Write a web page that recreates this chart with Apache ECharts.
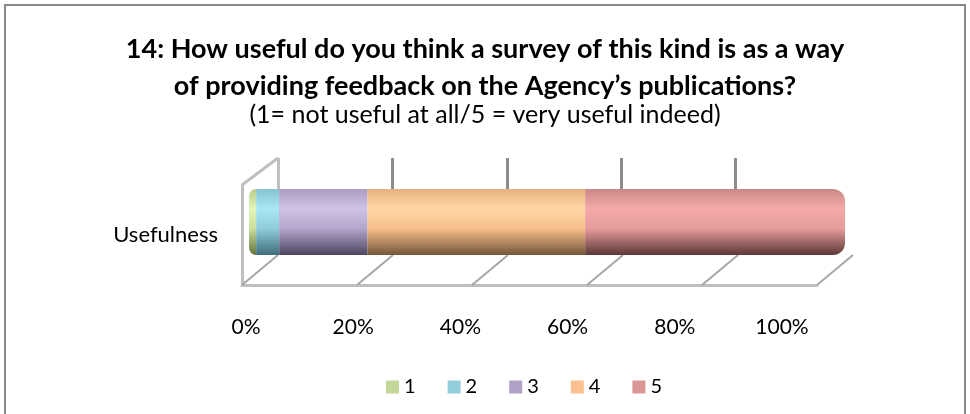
<!DOCTYPE html>
<html>
<head>
<meta charset="utf-8">
<script src="https://cdn.jsdelivr.net/npm/echarts@6/dist/echarts.min.js"></script>
<style>
  html, body { margin: 0; padding: 0; background: #fff; }
  #chart { width: 970px; height: 414px; }
</style>
</head>
<body>
<div id="chart"></div>
<script>
// data (percent of answers)
var categories = ['Usefulness']
var seriesNames = ['1', '2', '3', '4', '5']
var values = [1.2, 3.9, 14.8, 36.5, 43.6]
var tickValues = [0, 20, 40, 60, 80, 100]

var FONT = 'Lato, "Liberation Sans", sans-serif'

// flat legend colours + cylinder shading (top, light, mid, bottom)
var flatColors = ['#c4d79b', '#92cddc', '#b2a1c7', '#fac08f', '#da9694']
var shades = [
  ['#b9cc8a', '#e3f5b8', '#c9df9c', '#63733f'],
  ['#86c2d2', '#a9e8f7', '#8fcbdb', '#3f6e7a'],
  ['#ab9cc0', '#d0c2e5', '#b4a5cb', '#4e4560'],
  ['#e7b07f', '#ffd9a5', '#f7be8a', '#75553a'],
  ['#c98988', '#f5aaa9', '#e59c9b', '#5c3737']
]

function cylinder(s) {
  return new echarts.graphic.LinearGradient(0, 0, 0, 1, [
    { offset: 0, color: s[0] },
    { offset: 0.3, color: s[1] },
    { offset: 0.6, color: s[2] },
    { offset: 1, color: s[3] }
  ])
}

var barSeries = seriesNames.map(function (name, i) {
  var radius = [0, 0, 0, 0]
  if (i === 0) radius = [10, 0, 0, 10]
  if (i === seriesNames.length - 1) radius = [0, 12, 12, 0]
  return {
    name: name,
    type: 'bar',
    stack: 'total',
    xAxisIndex: 1,
    yAxisIndex: 1,
    barWidth: 66,
    data: [values[i]],
    itemStyle: { color: cylinder(shades[i]), borderRadius: radius }
  }
})

// floor diagonals of the 3d frame, placed through the floor axis
var floorSeries = {
  type: 'custom',
  xAxisIndex: 2,
  yAxisIndex: 2,
  silent: true,
  data: tickValues.map(function (v) { return [v, 0] }),
  renderItem: function (params, api) {
    var p = api.coord([api.value(0), 0])
    var children = [{
      type: 'line',
      shape: { x1: p[0], y1: p[1], x2: p[0] + 36, y2: p[1] - 30 },
      style: { stroke: '#a6a6a6', lineWidth: 2 }
    }]
    if (params.dataIndex === 0) {
      var t = api.coord([0, 100])
      children.push({
        type: 'line',
        shape: { x1: t[0], y1: t[1], x2: t[0] + 36, y2: t[1] - 27 },
        style: { stroke: '#bfbfbf', lineWidth: 3 }
      })
    }
    return { type: 'group', children: children }
  }
}

var chart = echarts.init(document.getElementById('chart'))

chart.setOption({
  animation: false,
  textStyle: { fontFamily: FONT },
  title: {
    text: '14: How useful do you think a survey of this kind is as a way\nof providing feedback on the Agency\u2019s publications?',
    subtext: '(1= not useful at all/5 = very useful indeed)',
    left: 'center',
    top: 26,
    itemGap: -2,
    textStyle: { fontFamily: FONT, fontSize: 27, fontWeight: 'bold', color: '#000', lineHeight: 37 },
    subtextStyle: { fontFamily: FONT, fontSize: 25, color: '#000', lineHeight: 24 }
  },
  legend: {
    data: seriesNames.map(function (n, i) {
      return { name: n, itemStyle: { color: flatColors[i] } }
    }),
    left: 381,
    top: 372,
    icon: 'rect',
    itemWidth: 13,
    itemHeight: 13,
    itemGap: 32,
    textStyle: { fontFamily: FONT, fontSize: 20, color: '#000' }
  },
  graphic: [{
    type: 'rect',
    silent: true,
    shape: { x: 5, y: 5, width: 960, height: 420 },
    style: { fill: 'none', stroke: '#898989', lineWidth: 2 }
  }],
  grid: [
    { left: 278, right: 120, top: 158, height: 97 },
    { left: 249, right: 125, top: 189, height: 66 },
    { left: 242, right: 153, top: 185, height: 100 },
    { left: 246, right: 188, top: 310, height: 5 }
  ],
  xAxis: [
    {
      gridIndex: 0, type: 'value', min: 0, max: 100, interval: 20,
      axisLine: { show: false }, axisTick: { show: false }, axisLabel: { show: false },
      splitLine: {
        show: true,
        lineStyle: { width: 3, color: ['#bfbfbf', '#8c8c8c', '#8c8c8c', '#8c8c8c', '#8c8c8c', 'rgba(0,0,0,0)'] }
      }
    },
    {
      gridIndex: 1, type: 'value', min: 0, max: 100, show: false
    },
    {
      gridIndex: 2, type: 'value', min: 0, max: 100, interval: 20,
      axisLine: { show: true, lineStyle: { color: '#bfbfbf', width: 3 } },
      axisTick: { show: false }, axisLabel: { show: false }, splitLine: { show: false }
    },
    {
      gridIndex: 3, type: 'value', min: 0, max: 100, interval: 20,
      axisLine: { show: false }, axisTick: { show: false }, splitLine: { show: false },
      axisLabel: { margin: 2, fontFamily: FONT, fontSize: 21, color: '#000', formatter: '{value}%' }
    }
  ],
  yAxis: [
    { gridIndex: 0, type: 'category', data: categories, show: false },
    {
      gridIndex: 1, type: 'category', data: categories,
      axisLine: { show: false }, axisTick: { show: false },
      axisLabel: { margin: 31, verticalAlign: 'top', lineHeight: 26, fontFamily: FONT, fontSize: 22, color: '#000' }
    },
    {
      gridIndex: 2, type: 'value', min: 0, max: 100,
      axisLine: { show: true, lineStyle: { color: '#bfbfbf', width: 3 } },
      axisTick: { show: false }, axisLabel: { show: false }, splitLine: { show: false }
    },
    { gridIndex: 3, type: 'category', data: categories, show: false }
  ],
  series: [floorSeries].concat(barSeries)
})
</script>
</body>
</html>
